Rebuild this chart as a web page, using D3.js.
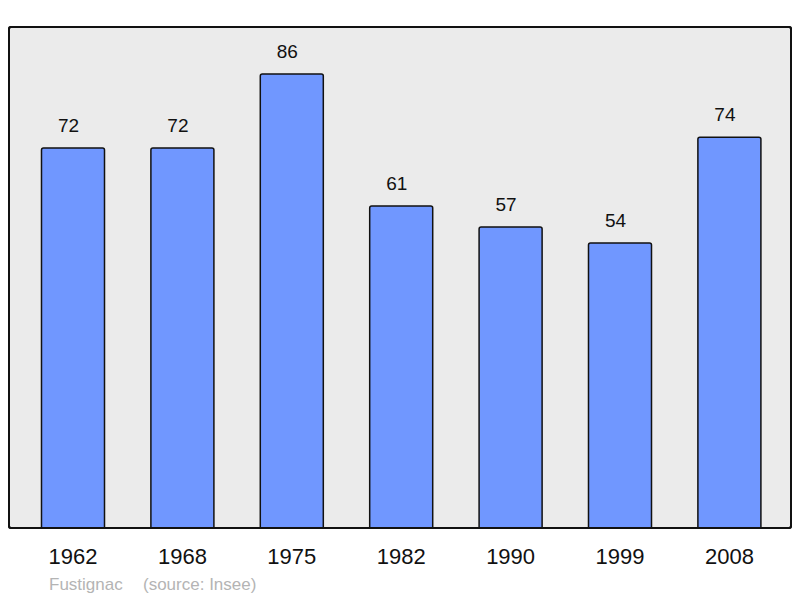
<!DOCTYPE html>
<html><head><meta charset="utf-8">
<script src="https://cdn.jsdelivr.net/npm/d3@7"></script>
<style>body{margin:0;background:#fff}svg{display:block;font-family:"Liberation Sans",Arial,sans-serif}</style>
</head><body>
<svg id="c" width="800" height="598"></svg>
<script>
const years = ["1962","1968","1975","1982","1990","1999","2008"];
const population = [72,72,86,61,57,54,74];
const place = "Fustignac";
const source = "(source: Insee)";

const svg = d3.select("#c");
const panel = {x0:9, y0:27, x1:791, y1:528};
svg.append("rect").attr("x",panel.x0).attr("y",panel.y0)
  .attr("width",panel.x1-panel.x0).attr("height",panel.y1-panel.y0)
  .attr("rx",2).attr("fill","#ebebeb").attr("stroke","#111").attr("stroke-width",2);

const x = d3.scaleBand().domain(years).range([18.3,784.1]).paddingInner(0.424).paddingOuter(0.212);
const y = d3.scaleLinear().domain([0,94.9]).range([panel.y1,panel.y0]);

const g = svg.append("g");
g.selectAll("path.bar").data(years).join("path").attr("class","bar")
  .attr("d",(d,i)=>{
    const x0=x(d), w=x.bandwidth(), yt=y(population[i]), yb=y(0), r=2;
    return `M${x0},${yb}V${yt+r}Q${x0},${yt} ${x0+r},${yt}H${x0+w-r}Q${x0+w},${yt} ${x0+w},${yt+r}V${yb}`;
  })
  .attr("fill","#7097ff").attr("stroke","#111").attr("stroke-width",1.5);

g.selectAll("text.val").data(years).join("text").attr("class","val")
  .attr("x",d=>x(d)+x.bandwidth()/2-4.5).attr("y",(d,i)=>y(population[i])-16)
  .attr("text-anchor","middle").attr("font-size",19).attr("fill","#111")
  .text((d,i)=>population[i]);

svg.append("rect").attr("x",panel.x0).attr("y",panel.y0)
  .attr("width",panel.x1-panel.x0).attr("height",panel.y1-panel.y0)
  .attr("rx",2).attr("fill","none").attr("stroke","#111").attr("stroke-width",2);

const ax = svg.append("g").attr("transform",`translate(0,${panel.y1})`)
  .call(d3.axisBottom(x).tickSize(0).tickPadding(0));
ax.select(".domain").remove();
ax.selectAll("text").attr("dy",null).attr("y",36).attr("font-size",22).attr("fill","#111")
  .attr("font-family","Liberation Sans, Arial, sans-serif");

svg.append("text").attr("x",49).attr("y",590).attr("font-size",17).attr("fill","#b4b4b4").text(place);
svg.append("text").attr("x",143).attr("y",590).attr("font-size",17).attr("fill","#b4b4b4").text(source);
</script>
</body></html>
